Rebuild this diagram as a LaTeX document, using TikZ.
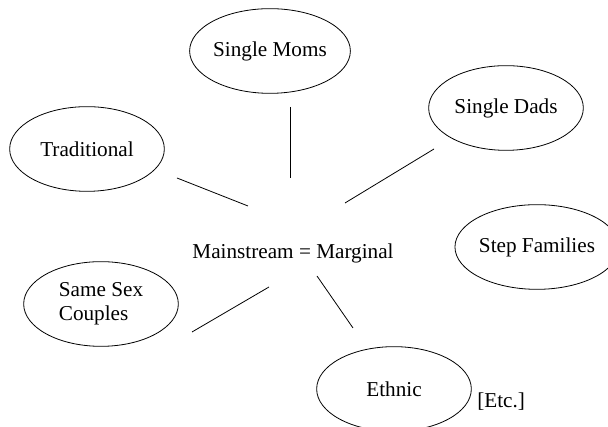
\documentclass[tikz,border=0pt]{standalone}
\usepackage{fontspec}
\setmainfont{Liberation Serif}
\usetikzlibrary{shapes.geometric}
\tikzset{
  family/.style={draw, ellipse, line width=0.6pt, inner sep=0pt,
    minimum width=116pt, minimum height=63.5pt},
  every node/.style={font=\fontsize{15.9}{18}\selectfont},
}
\begin{document}
\begin{tikzpicture}[x=0.75pt,y=0.75pt]
			\clip (0,0) rectangle (608,427);

			% Family types
			\node[family] (moms) at (270,376) {Single Moms};
			\node[family] (trad) at (87,278) {Traditional};
			\node[family] (dads) at (506,319) {Single Dads};
			\node[family] (step) at (537,180) {Step Families};
			\node[family, align=left] (same) at (101,123) {Same Sex\\Couples};
			\node[family] (ethnic) at (394,38) {Ethnic};

			% Centre
			\node (main) at (293,174) {Mainstream = Marginal};
			\node[anchor=west, inner sep=0pt] (etc) at (477,25) {[Etc.]};

			% Edge ends
			\coordinate (moms-a) at (290,320);
			\coordinate (moms-b) at (290,249);
			\coordinate (trad-a) at (177,249);
			\coordinate (trad-b) at (248,221);
			\coordinate (dads-a) at (434,278);
			\coordinate (dads-b) at (345,224);
			\coordinate (same-a) at (192,95);
			\coordinate (same-b) at (269,140);
			\coordinate (ethnic-a) at (353,99);
			\coordinate (ethnic-b) at (317,151);

			% Draw edges
			\draw[line width=0.6pt] (moms-a) -- (moms-b);
			\draw[line width=0.6pt] (trad-a) -- (trad-b);
			\draw[line width=0.6pt] (dads-a) -- (dads-b);
			\draw[line width=0.6pt] (same-a) -- (same-b);
			\draw[line width=0.6pt] (ethnic-a) -- (ethnic-b);
		\end{tikzpicture}
\end{document}
